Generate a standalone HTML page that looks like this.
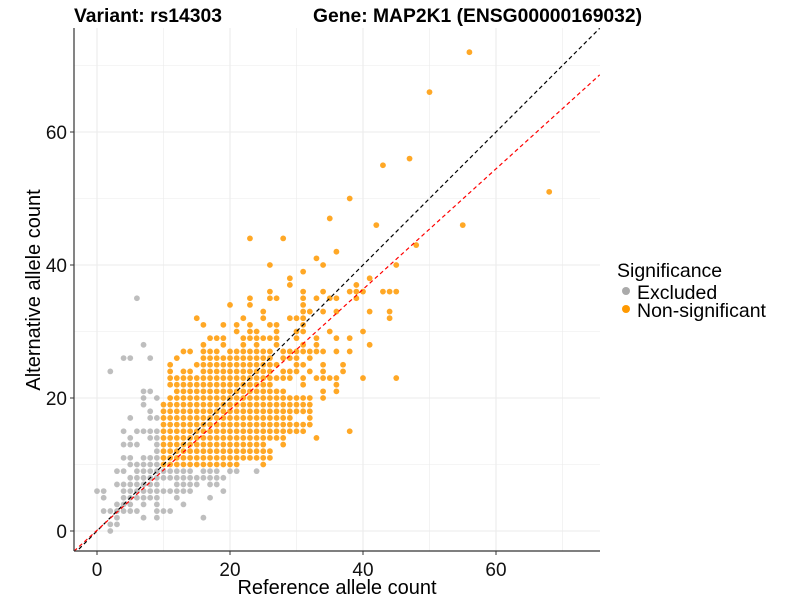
<!DOCTYPE html>
<html><head><meta charset="utf-8"><style>
body{margin:0;background:#fff;}
svg{display:block;font-family:"Liberation Sans",Arial,sans-serif;}
</style></head><body>
<svg id="chart" width="800" height="600">
<defs><clipPath id="panel"><rect x="74" y="28" width="526" height="523"/></clipPath></defs>
<g id="grid"></g>
<g id="pts" clip-path="url(#panel)"></g>
<g id="lines" clip-path="url(#panel)"></g>
<line x1="74" y1="28" x2="74" y2="551" stroke="#333" stroke-width="1.2"/>
<line x1="74" y1="551" x2="600" y2="551" stroke="#333" stroke-width="1.2"/>
<g id="ticks"></g>
<text x="74" y="22" font-size="19.3" font-weight="bold">Variant: rs14303</text>
<text x="313" y="22" font-size="19.3" font-weight="bold">Gene: MAP2K1 (ENSG00000169032)</text>
<text x="337" y="594" font-size="20" text-anchor="middle">Reference allele count</text>
<text transform="translate(40,290) rotate(-90)" font-size="20" text-anchor="middle">Alternative allele count</text>
<g>
<text x="617" y="277" font-size="19.5">Significance</text>
<g><circle cx="626" cy="291" r="4" fill="#aaaaaa"/><text x="637" y="299" font-size="19.5">Excluded</text></g>
<g><circle cx="626" cy="309" r="4" fill="#ff9900"/><text x="637" y="317" font-size="19.5">Non-significant</text></g>
</g>
</svg>
<script>
const xTicks=[0,20,40,60];
const yTicks=[0,20,40,60];
const minorTicks=[10,30,50,70];
// rows: [alt count, ref counts spec]
const excludedRows=[[0,"2"],[1,"2,3"],[2,"3,7,9,16"],[3,"1-6,9,10,11"],[4,"3,4,5,7,9,13"],[5,"1,4-9,12,17"],[6,"0,1,4-14,19"],[7,"3-9,12-15,17,18"],[8,"5-19"],[9,"3,4,6-14,16-18,20,21,24"],[10,"5-9"],[11,"4,5,7,8,9"],[12,"9"],[13,"4,5,6,9"],[14,"5,8,9"],[15,"4,6,7,8,9"],[17,"5,8,9"],[18,"8"],[19,"7"],[20,"7,9"],[21,"7,8"],[24,"2"],[26,"4,5,8"],[28,"7"],[35,"6"]];
const nonsigRows=[[10,"10-21,25"],[11,"10-26"],[12,"10-26"],[13,"10-25,28"],[14,"10-28,33"],[15,"10-31,38"],[16,"10-32"],[17,"10-29,32"],[18,"10-32"],[19,"10-32"],[20,"11-32,34"],[21,"12-28,34,36"],[22,"11-26,31,36"],[23,"11-29,31,33-36,40,45"],[24,"11,13,14,16-26,28-30,32,34,37"],[25,"11,15-27,30,31,34,37"],[26,"12,16-26,28-30,32"],[27,"13,14,16,17,18,20-26,28-34,36,38"],[28,"16,19,22,24,27,31,33,41"],[29,"17,18,19,22-27,30,33,36,38"],[30,"21,23,24,27,30,31,35,40"],[31,"16,19,21,23,26,27,31"],[32,"15,22,25,29,30,31,44"],[33,"25,31,32,34,36,41,44"],[34,"20,23,31"],[35,"23,26,27,31,33,35,36,39"],[36,"26,31,34,38,39,40,43,44,45"],[37,"29,39"],[38,"29,41"],[39,"31"],[40,"26,34,45"],[41,"33"],[42,"36"],[43,"48"],[44,"23,28"],[46,"42,55"],[47,"35"],[50,"38"],[51,"68"],[55,"43"],[56,"47"],[66,"50"],[72,"56"]];
const fitSlope=0.906, fitIntercept=0.1;
const NS="http://www.w3.org/2000/svg";
const sx=v=>97+v*6.65, sy=v=>531-v*6.65;
const X0=-3.46,X1=75.6;
function mk(t,a,p){const e=document.createElementNS(NS,t);for(const k in a)e.setAttribute(k,a[k]);p.appendChild(e);return e;}
const grid=document.getElementById('grid'),ticks=document.getElementById('ticks');
minorTicks.concat(xTicks).forEach(v=>{const maj=xTicks.includes(v);
 const l=mk('line',{x1:sx(v),x2:sx(v),y1:28,y2:551,stroke:'#ebebeb','stroke-width':maj?1.1:0.6},grid);
 
 const h=mk('line',{y1:sy(v),y2:sy(v),x1:74,x2:600,stroke:'#ebebeb','stroke-width':maj?1.1:0.6},grid);
 });
xTicks.forEach(v=>{mk('line',{x1:sx(v),x2:sx(v),y1:551,y2:555,stroke:'#333'},ticks);
 const t=mk('text',{x:sx(v),y:576,'font-size':19,'text-anchor':'middle',fill:'#111'},ticks);t.textContent=v;
 });
yTicks.forEach(v=>{mk('line',{x1:70,x2:74,y1:sy(v),y2:sy(v),stroke:'#333'},ticks);
 const t=mk('text',{x:67,y:sy(v)+7,'font-size':19,'text-anchor':'end',fill:'#111'},ticks);t.textContent=v;
 });
function expand(s){const o=[];s.split(',').forEach(p=>{const r=p.split('-').map(Number);if(r.length==1)o.push(r[0]);else for(let i=r[0];i<=r[1];i++)o.push(i);});return o;}
const pts=document.getElementById('pts');
function draw(rows,col,op,name){rows.forEach(([y,s])=>expand(s).forEach(x=>{
 const c=mk('circle',{cx:sx(x),cy:sy(y),r:2.9,fill:col,'fill-opacity':op},pts);
 }));}
draw(excludedRows,'#a8a8a8',0.75,'point-excluded');
draw(nonsigRows,'#ff9900',0.85,'point-non-significant');
const lines=document.getElementById('lines');
const d1=mk('line',{x1:sx(X0),y1:sy(X0),x2:sx(X1),y2:sy(X1),stroke:'#000','stroke-width':1.2,'stroke-dasharray':'4,3'},lines);

const d2=mk('line',{x1:sx(X0),y1:sy(fitSlope*X0+fitIntercept),x2:sx(X1),y2:sy(fitSlope*X1+fitIntercept),stroke:'#ff0000','stroke-width':1.2,'stroke-dasharray':'4,3'},lines);

</script>
</body></html>
